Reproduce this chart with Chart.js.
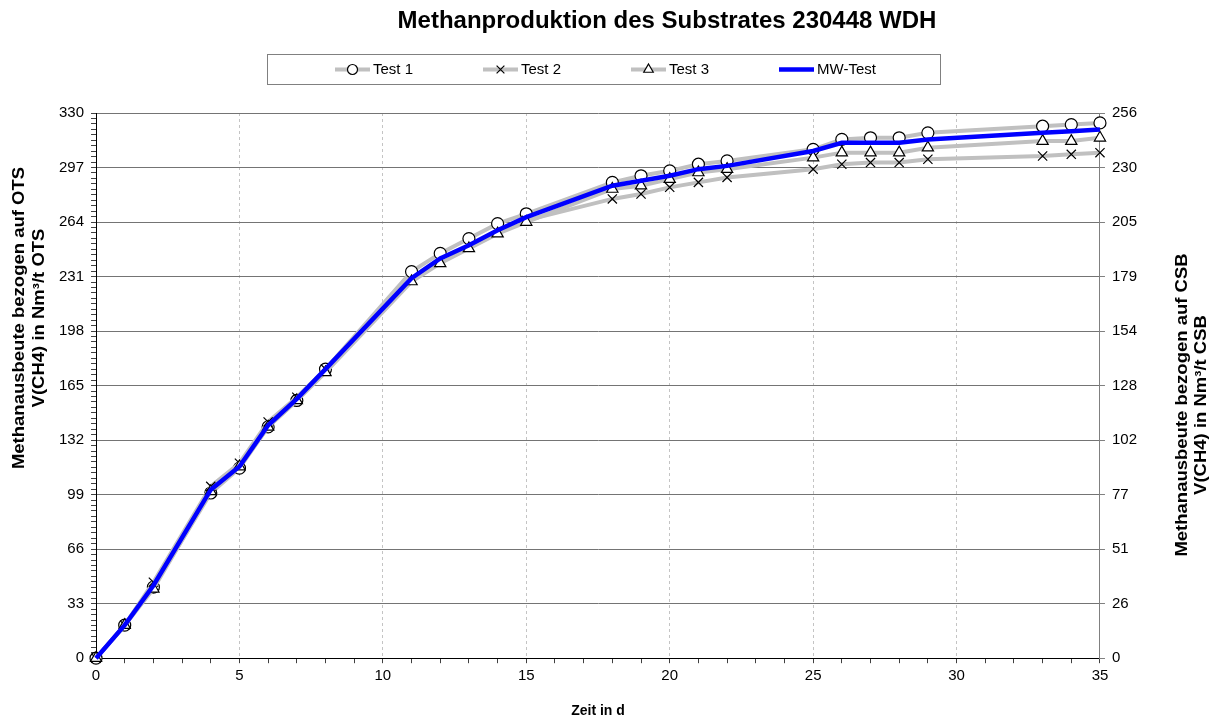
<!DOCTYPE html>
<html>
<head>
<meta charset="utf-8">
<script src="https://cdn.jsdelivr.net/npm/chart.js@4.4.1/dist/chart.umd.min.js"></script>
<style>
  html, body { margin: 0; padding: 0; background: #fff; }
  #wrap { width: 1215px; height: 720px; }
</style>
</head>
<body>
<div id="wrap"><canvas id="chart"></canvas></div>
<script>
const chartTitle = 'Methanproduktion des Substrates 230448 WDH'
const xTitle = 'Zeit in d'
const yTitle = ['Methanausbeute bezogen auf OTS', 'V(CH4) in Nm³/t OTS']
const y2Title = ['Methanausbeute bezogen auf CSB', 'V(CH4) in Nm³/t CSB']

// measuring days
const days = [0, 1, 2, 4, 5, 6, 7, 8, 11, 12, 13, 14, 15, 18, 19, 20, 21, 22, 25, 26, 27, 28, 29, 33, 34, 35]

const test1 = [0, 20, 43, 100, 115, 140, 156, 175, 234, 245, 254, 263, 269, 288, 292, 295, 299, 301, 308, 314, 315, 315, 318, 322, 323, 324]
// test 2 has no readings on days 11-14
const test2 = [0, 20, 46, 104, 118, 143, 158, 175, null, null, null, null, 265, 278, 281, 285, 288, 291, 296, 299, 300, 300, 302, 304, 305, 306]
const test3 = [0, 20, 42, 101, 116, 140, 156, 173, 228, 239, 248, 257, 264, 284, 286, 290, 294, 296, 303, 306, 306, 306, 309, 313, 313, 315]
const mwTest = [0, 20, 44, 102, 116, 141, 157, 175, 230, 242, 250, 259, 267, 286, 289, 292, 296, 298, 307, 312, 312, 312, 314, 318, 319, 320]

// left axis (OTS) and right axis (CSB)
const yMax = 330
const yStep = 33
const y2Max = 256
const y2Step = 25.6
const xMax = 35

const FONT = 'Liberation Sans, Arial, sans-serif'
Chart.defaults.font.family = FONT
Chart.defaults.color = '#000'

const toPoints = values => days.map((d, i) => ({x: d, y: values[i]}))

function testSeries(label, values, pointStyle, pointRadius, order) {
    return {
        label,
        data: toPoints(values),
        borderColor: '#c0c0c0',
        borderWidth: 4,
        pointStyle,
        pointRadius,
        pointBorderColor: '#000',
        pointBackgroundColor: '#fff',
        pointBorderWidth: 1.2,
        tension: 0,
        spanGaps: false,
        clip: 10,
        order
    }
}

const datasets = [
    testSeries('Test 1', test1, 'circle', 6, 3),
    testSeries('Test 2', test2, 'crossRot', 6.5, 2),
    testSeries('Test 3', test3, 'triangle', 6.5, 1),
    {
        label: 'MW-Test',
        data: toPoints(mwTest),
        borderColor: '#0000ff',
        borderWidth: 4.5,
        pointRadius: 0,
        tension: 0,
        clip: 10,
        order: 0
    }
]

// rotated two-line title, glyphs a bit squeezed like the original
function drawVerticalTitle(ctx, lines, x, y, gap) {
    lines.forEach((line, i) => {
        ctx.save()
        ctx.translate(x + i * gap, y)
        ctx.rotate(-Math.PI / 2)
        ctx.scale(1, 0.85)
        ctx.fillText(line, 0, 0)
        ctx.restore()
    })
}

// title, boxed legend and both vertical axis titles
const decor = {
    id: 'decor',
    afterDraw(chart) {
        const ctx = chart.ctx
        ctx.save()
        ctx.fillStyle = '#000'
        ctx.font = `bold 24px ${FONT}`
        ctx.textAlign = 'center'
        ctx.textBaseline = 'middle'
        ctx.fillText(chartTitle, 667, 21)

        ctx.strokeStyle = '#808080'
        ctx.lineWidth = 1
        ctx.strokeRect(267.5, 54.5, 673, 30)

        ctx.font = `15px ${FONT}`
        ctx.textAlign = 'left'
        chart.data.datasets.forEach((ds, i) => {
            const x0 = 335 + i * 148
            const y = 69.5
            ctx.strokeStyle = ds.borderColor
            ctx.lineWidth = ds.borderWidth
            ctx.beginPath()
            ctx.moveTo(x0, y)
            ctx.lineTo(x0 + 35, y)
            ctx.stroke()
            if (ds.pointRadius) {
                ctx.fillStyle = '#fff'
                ctx.strokeStyle = '#000'
                ctx.lineWidth = 1.2
                Chart.helpers.drawPoint(ctx, {pointStyle: ds.pointStyle, radius: ds.pointRadius - 1, rotation: 0, borderWidth: 1.2}, x0 + 17.5, y)
            }
            ctx.fillStyle = '#000'
            ctx.fillText(ds.label, x0 + 38, y)
        })

        ctx.font = `bold 18.5px ${FONT}`
        ctx.textAlign = 'center'
        drawVerticalTitle(ctx, yTitle, 20, 318, 20)
        drawVerticalTitle(ctx, y2Title, 1183, 405, 19)
        ctx.restore()
    }
}

const isMultiple = (v, step) => Math.abs(v / step - Math.round(v / step)) < 1e-6

new Chart(document.getElementById('chart'), {
    type: 'line',
    data: {datasets},
    plugins: [decor],
    options: {
        responsive: true,
        maintainAspectRatio: false,
        animation: false,
        events: [],
        layout: {padding: {top: 113, left: 52, right: 71, bottom: 0}},
        plugins: {
            legend: {display: false},
            title: {display: false},
            tooltip: {enabled: false}
        },
        scales: {
            x: {
                type: 'linear',
                min: 0,
                max: xMax,
                ticks: {
                    stepSize: 1,
                    autoSkip: false,
                    maxRotation: 0,
                    padding: 4,
                    font: {size: 15},
                    callback: v => isMultiple(v, 5) ? String(v) : ''
                },
                grid: {
                    color: c => (c.tick && isMultiple(c.tick.value, 5) && c.tick.value > 0 && c.tick.value < xMax) ? '#c4c4c4' : 'rgba(0,0,0,0)',
                    tickColor: '#404040',
                    tickLength: 5
                },
                border: {color: '#000', width: 1, dash: [3, 3]},
                title: {display: true, text: xTitle, font: {size: 14, weight: 'bold'}, padding: {top: 14, bottom: 0}}
            },
            y: {
                position: 'left',
                min: 0,
                max: yMax,
                ticks: {
                    stepSize: yStep / 10,
                    autoSkip: false,
                    padding: 7,
                    font: {size: 15},
                    callback: v => isMultiple(v, yStep) ? String(Math.round(v)) : ''
                },
                grid: {
                    color: c => (c.tick && isMultiple(c.tick.value, yStep)) ? '#747474' : 'rgba(0,0,0,0)',
                    tickColor: '#404040',
                    tickLength: 5
                },
                border: {color: '#000', width: 1}
            },
            y2: {
                position: 'right',
                min: 0,
                max: y2Max,
                ticks: {
                    stepSize: y2Step,
                    autoSkip: false,
                    padding: 7,
                    font: {size: 15},
                    callback: v => String(Math.round(v))
                },
                grid: {drawOnChartArea: false, tickColor: '#808080', tickLength: 5},
                border: {color: '#808080', width: 1}
            }
        }
    }
})
</script>
</body>
</html>
